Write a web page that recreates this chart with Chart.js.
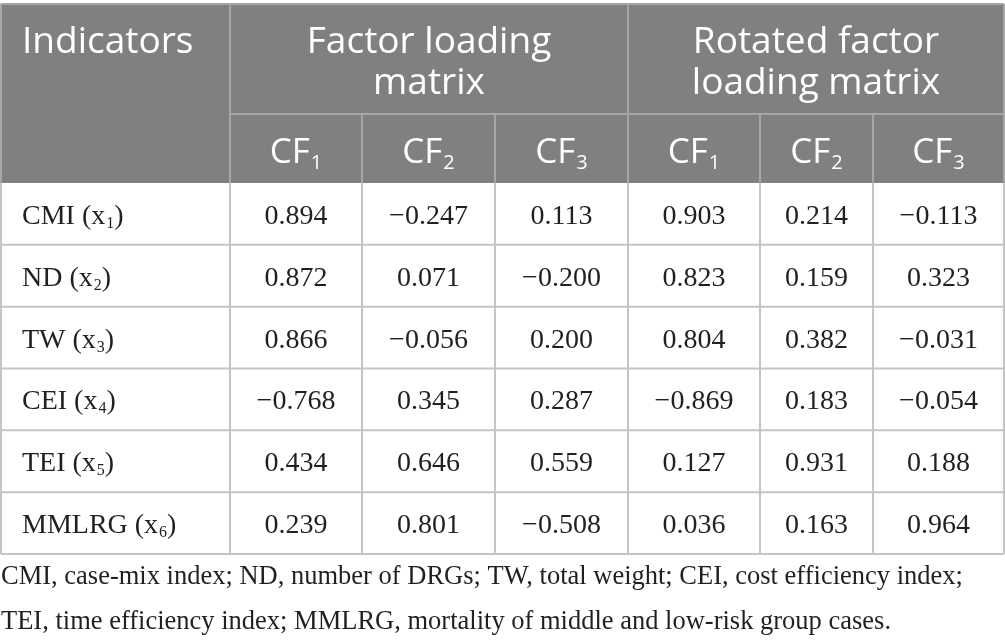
<!DOCTYPE html>
<html>
<head>
<meta charset="utf-8">
<script src="https://cdn.jsdelivr.net/npm/chart.js@4.4.1/dist/chart.umd.min.js"></script>
<style>
html, body { margin: 0; padding: 0; background: #fff; }
#wrap { width: 1005px; height: 644px; position: relative; }
</style>
</head>
<body>
<div id="wrap"><canvas id="loadingTable"></canvas></div>
<script>
// table data
var indicators = ['CMI', 'ND', 'TW', 'CEI', 'TEI', 'MMLRG'];
var indicatorSubs = ['1', '2', '3', '4', '5', '6'];
var factorCF1 = [0.894, 0.872, 0.866, -0.768, 0.434, 0.239];
var factorCF2 = [-0.247, 0.071, -0.056, 0.345, 0.646, 0.801];
var factorCF3 = [0.113, -0.200, 0.200, 0.287, 0.559, -0.508];
var rotatedCF1 = [0.903, 0.823, 0.804, -0.869, 0.127, 0.036];
var rotatedCF2 = [0.214, 0.159, 0.382, 0.183, 0.931, 0.163];
var rotatedCF3 = [-0.113, 0.323, -0.031, -0.054, 0.188, 0.964];
var factorNames = ['1', '2', '3'];
var groupTitles = [['Factor loading', 'matrix'], ['Rotated factor', 'loading matrix']];
var firstHeader = 'Indicators';
var footnote = [
	'CMI, case-mix index; ND, number of DRGs; TW, total weight; CEI, cost efficiency index;',
	'TEI, time efficiency index; MMLRG, mortality of middle and low-risk group cases.'
];

// layout (pixels)
var colEdges = [1, 230, 362, 495, 628, 760, 873, 1004];
var tableTop = 4;
var headerSplit = 114;
var bodyTop = 183;
var bodyBottom = 554;
var headFont = '"Open Sans", sans-serif';
var bodyFont = '"Liberation Serif", serif';

var columns = [factorCF1, factorCF2, factorCF3, rotatedCF1, rotatedCF2, rotatedCF3];
var columnNames = ['Factor CF1', 'Factor CF2', 'Factor CF3', 'Rotated CF1', 'Rotated CF2', 'Rotated CF3'];

function fmt(v) {
	return (v < 0 ? '\u2212' : '') + Math.abs(v).toFixed(3);
}

// text with a subscript in the middle, e.g. CMI (x1)
function subText(ctx, family, x, baseline, main, sub, tail, size, subSize, subDrop, align) {
	ctx.font = size + 'px ' + family;
	var w1 = ctx.measureText(main).width;
	var w3 = tail ? ctx.measureText(tail).width : 0;
	ctx.font = subSize + 'px ' + family;
	var w2 = ctx.measureText(sub).width;
	var total = w1 + w2 + w3 + 1;
	var left = align === 'center' ? x - total / 2 : x;
	ctx.textAlign = 'left';
	ctx.textBaseline = 'alphabetic';
	ctx.font = size + 'px ' + family;
	ctx.fillText(main, left, baseline);
	ctx.font = subSize + 'px ' + family;
	ctx.fillText(sub, left + w1 + 1, baseline + subDrop);
	if (tail) {
		ctx.font = size + 'px ' + family;
		ctx.fillText(tail, left + w1 + w2 + 1, baseline);
	}
}

var datasets = columns.map(function (vals, c) {
	return {
		label: columnNames[c],
		values: vals,
		data: indicators.map(function (ind) {
			return { x: (colEdges[c + 1] + colEdges[c + 2]) / 2, y: ind };
		}),
		pointRadius: 0,
		pointHoverRadius: 0,
		showLine: false
	};
});

var tablePlugin = {
	id: 'tablePlugin',
	beforeDatasetsDraw: function (chart) {
		var ctx = chart.ctx;
		var xs = chart.scales.x;
		var ys = chart.scales.y;
		var L = xs.getPixelForValue(colEdges[0]);
		var R = xs.getPixelForValue(colEdges[colEdges.length - 1]);
		var top = chart.chartArea.top;
		var bottom = chart.chartArea.bottom;
		ctx.save();
		// header background
		ctx.fillStyle = '#808080';
		ctx.fillRect(L, tableTop, R - L, top - tableTop);
		ctx.lineWidth = 2;
		// header lines
		ctx.strokeStyle = '#a6a6a6';
		ctx.beginPath();
		ctx.moveTo(L, tableTop); ctx.lineTo(R, tableTop);
		ctx.moveTo(xs.getPixelForValue(colEdges[1]), headerSplit); ctx.lineTo(R, headerSplit);
		ctx.moveTo(xs.getPixelForValue(colEdges[1]), tableTop); ctx.lineTo(xs.getPixelForValue(colEdges[1]), top);
		ctx.moveTo(xs.getPixelForValue(colEdges[4]), tableTop); ctx.lineTo(xs.getPixelForValue(colEdges[4]), top);
		[2, 3, 5, 6].forEach(function (k) {
			var px = xs.getPixelForValue(colEdges[k]);
			ctx.moveTo(px, headerSplit); ctx.lineTo(px, top);
		});
		ctx.moveTo(L, tableTop); ctx.lineTo(L, top);
		ctx.moveTo(R, tableTop); ctx.lineTo(R, top);
		ctx.stroke();
		// body lines
		ctx.strokeStyle = '#c4c4c4';
		ctx.beginPath();
		ctx.moveTo(L, bottom); ctx.lineTo(R, bottom);
		for (var r = 1; r < indicators.length; r++) {
			var py = (ys.getPixelForValue(r - 1) + ys.getPixelForValue(r)) / 2;
			ctx.moveTo(L, py); ctx.lineTo(R, py);
		}
		colEdges.forEach(function (e) {
			var px = xs.getPixelForValue(e);
			ctx.moveTo(px, top); ctx.lineTo(px, bottom);
		});
		ctx.stroke();

		// header text
		ctx.fillStyle = '#ffffff';
		ctx.font = '37px ' + headFont;
		ctx.textBaseline = 'alphabetic';
		ctx.textAlign = 'left';
		ctx.fillText(firstHeader, L + 21, 53);
		ctx.textAlign = 'center';
		groupTitles.forEach(function (lines, g) {
			var cx = (xs.getPixelForValue(colEdges[1 + g * 3]) + xs.getPixelForValue(colEdges[4 + g * 3])) / 2;
			lines.forEach(function (t, i) {
				ctx.fillText(t, cx, 53 + i * 41);
			});
		});
		for (var c = 0; c < 6; c++) {
			var hx = (xs.getPixelForValue(colEdges[c + 1]) + xs.getPixelForValue(colEdges[c + 2])) / 2;
			subText(ctx, headFont, hx, 162.5, 'CF', factorNames[c % 3], '', 35, 20, 6.5, 'center');
		}

		// indicator column
		ctx.fillStyle = '#231f20';
		indicators.forEach(function (ind, r) {
			subText(ctx, bodyFont, L + 21, ys.getPixelForValue(r) + 10, ind + ' (x', indicatorSubs[r], ')', 28, 16, 4, 'left');
		});

		// footnote
		ctx.textAlign = 'left';
		ctx.font = '26.5px ' + bodyFont;
		footnote.forEach(function (t, i) {
			ctx.fillText(t, 1, 584 + i * 45);
		});
		ctx.restore();
	},
	afterDatasetsDraw: function (chart) {
		var ctx = chart.ctx;
		ctx.save();
		ctx.fillStyle = '#231f20';
		ctx.font = '28px ' + bodyFont;
		ctx.textAlign = 'center';
		ctx.textBaseline = 'alphabetic';
		chart.data.datasets.forEach(function (ds, d) {
			var meta = chart.getDatasetMeta(d);
			meta.data.forEach(function (pt, i) {
				ctx.fillText(fmt(ds.values[i]), pt.x, pt.y + 10);
			});
		});
		ctx.restore();
	}
};

var ctx = document.getElementById('loadingTable');
var loadingTable = new Chart(ctx, {
	type: 'scatter',
	data: {
		datasets: datasets
	},
	options: {
		responsive: true,
		maintainAspectRatio: false,
		animation: false,
		devicePixelRatio: 1,
		layout: {
			padding: { top: bodyTop, bottom: 644 - bodyBottom, left: 0, right: 0 }
		},
		plugins: {
			legend: { display: false },
			tooltip: { enabled: false }
		},
		scales: {
			x: { type: 'linear', min: 0, max: 1005, display: false },
			y: { type: 'category', labels: indicators, offset: true, display: false }
		}
	},
	plugins: [tablePlugin]
});
</script>
</body>
</html>
